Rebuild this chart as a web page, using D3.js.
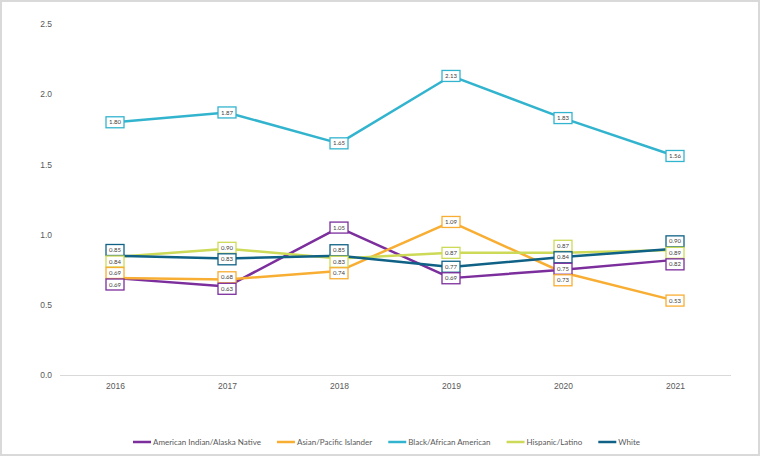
<!DOCTYPE html>
<html><head><meta charset="utf-8">
<script src="https://cdn.jsdelivr.net/npm/d3@7"></script>
<style>
html,body{margin:0;padding:0;background:#fff;}
svg{display:block;font-family:Lato,"Open Sans",sans-serif;}
</style></head>
<body>
<svg id="chart" width="761" height="457"></svg>
<script>
const years = ["2016","2017","2018","2019","2020","2021"];
const seriesNames = ["American Indian/Alaska Native","Asian/Pacific Islander","Black/African American","Hispanic/Latino","White"];
const aian     = [0.69, 0.63, 1.05, 0.69, 0.75, 0.82];
const asianPI  = [0.69, 0.68, 0.74, 1.09, 0.73, 0.53];
const black    = [1.80, 1.87, 1.65, 2.13, 1.83, 1.56];
const hispanic = [0.84, 0.90, 0.83, 0.87, 0.87, 0.89];
const white    = [0.85, 0.83, 0.85, 0.77, 0.84, 0.90];
const yTicks = [0, 0.5, 1.0, 1.5, 2.0, 2.5];
const colors = ["#7B2E9C", "#F8AE33", "#33B4CE", "#CDDA58", "#0F6186"];

const seriesValues = [aian, asianPI, black, hispanic, white];
const series = seriesNames.map((n,i)=>({name:n, values:seriesValues[i], color:colors[i], idx:i}));

const svg = d3.select("#chart");
svg.append("rect").attr("x",1).attr("y",1).attr("width",758).attr("height",454)
  .attr("fill","#fff").attr("stroke","#d9d9d9").attr("stroke-width",2);

const x = d3.scalePoint().domain(years).range([115, 675]);
const y = d3.scaleLinear().domain([0, 2.5]).range([375, 24]);

// y axis (labels only)
const yAxis = svg.append("g").attr("transform","translate(60,0)")
  .call(d3.axisLeft(y).tickValues(yTicks).tickFormat(d3.format(".1f")).tickSize(0).tickPadding(8));
yAxis.select(".domain").remove();
yAxis.selectAll("text").attr("fill","#595959").style("font-size","8.5px");

// x axis
const xAxis = svg.append("g").attr("transform","translate(0,375)")
  .call(d3.axisBottom(x).tickSize(0).tickPadding(8));
xAxis.select(".domain").attr("d","M60,0.5H731").attr("stroke","#d9d9d9");
xAxis.selectAll("text").attr("fill","#595959").style("font-size","8.5px");

const line = d3.line().x((d,i)=>x(years[i])).y(d=>y(d));
svg.append("g").selectAll("path").data(series).join("path")
  .attr("d", d=>line(d.values)).attr("fill","none")
  .attr("stroke", d=>d.color).attr("stroke-width",2.5).attr("stroke-linejoin","round");

// labels with simple collision avoidance per year
const gap = 11.5;
const labels = [];
years.forEach((yr,i)=>{
  let items = series.map(s=>({s, v:s.values[i], x:x(yr), y0:y(s.values[i])}));
  items.sort((a,b)=> (a.y0-b.y0) || (b.s.idx - a.s.idx));
  let clusters = items.map(it=>({items:[it], mean:it.y0}));
  let changed = true;
  const pos = c => { const n=c.items.length; return c.items.map((it,k)=>c.mean + (k-(n-1)/2)*gap); };
  while(changed){
    changed=false;
    for(let k=0;k<clusters.length-1;k++){
      const a=clusters[k], b=clusters[k+1];
      const pa=pos(a), pb=pos(b);
      if(pb[0]-pa[pa.length-1] < gap){
        const its=a.items.concat(b.items);
        const mean=d3.mean(its,t=>t.y0);
        clusters.splice(k,2,{items:its, mean});
        changed=true; break;
      }
    }
  }
  clusters.forEach(c=>{ const p=pos(c); c.items.forEach((it,k)=>{it.y=p[k]; labels.push(it);}); });
});

const lg = svg.append("g");
const lab = lg.selectAll("g").data(labels).join("g")
  .attr("transform", d=>`translate(${d.x},${d.y})`);
lab.append("rect").attr("x",-9).attr("y",-5.5).attr("width",18).attr("height",11)
  .attr("fill","#fff").attr("stroke", d=>d.s.color).attr("stroke-width",1.3);
lab.append("text").attr("text-anchor","middle").attr("dy","0.35em")
  .style("font-size","6px").attr("fill","#404040")
  .text(d=>d3.format(".2f")(d.v));

// legend spanning x 133..640
const legStart = 133, legEnd = 640;
const leg = svg.append("g").attr("transform",`translate(${legStart},442)`);
const items = series.map(s=>{
  const g = leg.append("g");
  g.append("line").attr("x1",0).attr("x2",18).attr("y1",0).attr("y2",0)
    .attr("stroke",s.color).attr("stroke-width",2.5);
  const t = g.append("text").attr("x",20).attr("dy","0.35em")
    .style("font-size","8px").attr("fill","#595959").text(s.name);
  return {g, w: 20 + t.node().getComputedTextLength()};
});
const totalW = d3.sum(items, d=>d.w);
const lgap = (legEnd - legStart - totalW) / (items.length - 1);
let lx = 0;
items.forEach(it=>{ it.g.attr("transform",`translate(${lx},0)`); lx += it.w + lgap; });
</script>
</body></html>
